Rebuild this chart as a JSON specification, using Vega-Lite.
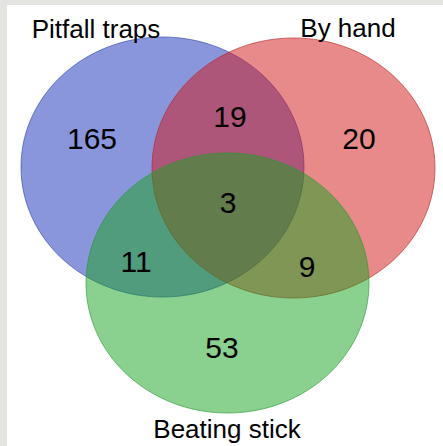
{
  "$schema": "https://vega.github.io/schema/vega-lite/v6.json",
  "width": 436,
  "height": 441,
  "autosize": {"type": "none"},
  "padding": {"left": 7, "top": 5, "right": 0, "bottom": 0},
  "background": "#e4e4e0",
  "config": {"view": {"stroke": null, "fill": "#ffffff"}},
  "datasets": {
    "sets": [
      {"set": "Pitfall traps", "cx": 155.5, "cy": 162},
      {"set": "By hand", "cx": 286.5, "cy": 163},
      {"set": "Beating stick", "cx": 220.5, "cy": 278}
    ],
    "counts": [
      {"label": "165", "x": 85, "y": 144},
      {"label": "19", "x": 223, "y": 122},
      {"label": "20", "x": 352, "y": 144},
      {"label": "3", "x": 221, "y": 208},
      {"label": "11", "x": 129, "y": 267},
      {"label": "9", "x": 300, "y": 272},
      {"label": "53", "x": 215, "y": 353}
    ],
    "names": [
      {"label": "Pitfall traps", "x": 89, "y": 32.5},
      {"label": "By hand", "x": 341, "y": 32},
      {"label": "Beating stick", "x": 220, "y": 433}
    ]
  },
  "layer": [
    {
      "data": {"name": "sets"},
      "mark": {
        "type": "point",
        "filled": true,
        "shape": "M -1 0 A 1 0.919 0 1 1 1 0 A 1 0.919 0 1 1 -1 0 Z",
        "size": 80089,
        "fillOpacity": 0.5,
        "strokeOpacity": 0.6,
        "strokeWidth": 1
      },
      "encoding": {
        "x": {"field": "cx", "type": "quantitative", "scale": {"domain": [0, 436], "nice": false}, "axis": null},
        "y": {"field": "cy", "type": "quantitative", "scale": {"domain": [0, 441], "nice": false, "reverse": true}, "axis": null},
        "color": {
          "field": "set", "type": "nominal",
          "scale": {"domain": ["Pitfall traps", "By hand", "Beating stick"], "range": ["#152db9", "#d11515", "#15a11d"]},
          "legend": null
        },
        "stroke": {
          "field": "set", "type": "nominal",
          "scale": {"domain": ["Pitfall traps", "By hand", "Beating stick"], "range": ["#2a3ea8", "#b82020", "#249a30"]},
          "legend": null
        }
      }
    },
    {
      "data": {"name": "counts"},
      "mark": {"type": "text", "font": "Liberation Sans", "fontSize": 30, "baseline": "alphabetic", "align": "center", "color": "#000000"},
      "encoding": {
        "x": {"field": "x", "type": "quantitative", "scale": {"domain": [0, 436], "nice": false}, "axis": null},
        "y": {"field": "y", "type": "quantitative", "scale": {"domain": [0, 441], "nice": false, "reverse": true}, "axis": null},
        "text": {"field": "label", "type": "nominal"}
      }
    },
    {
      "data": {"name": "names"},
      "mark": {"type": "text", "font": "Liberation Sans", "fontSize": 26, "baseline": "alphabetic", "align": "center", "color": "#000000"},
      "encoding": {
        "x": {"field": "x", "type": "quantitative", "scale": {"domain": [0, 436], "nice": false}, "axis": null},
        "y": {"field": "y", "type": "quantitative", "scale": {"domain": [0, 441], "nice": false, "reverse": true}, "axis": null},
        "text": {"field": "label", "type": "nominal"}
      }
    }
  ]
}
